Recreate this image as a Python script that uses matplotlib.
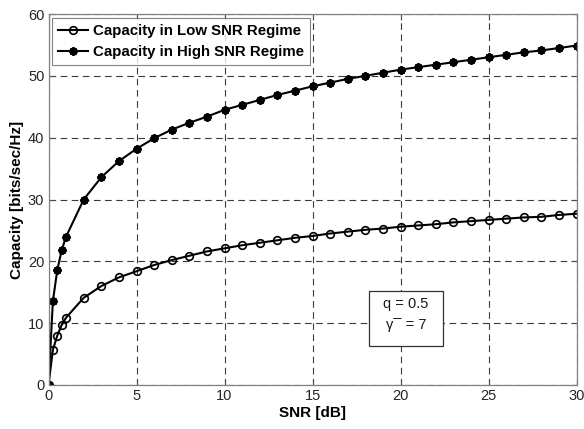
import matplotlib
matplotlib.use("Agg")
import matplotlib.pyplot as plt
from matplotlib.patches import Rectangle

snr_db = [0, 0.25, 0.5, 0.75, 1, 2, 3, 4, 5, 6, 7, 8, 9, 10, 11, 12, 13, 14, 15,
          16, 17, 18, 19, 20, 21, 22, 23, 24, 25, 26, 27, 28, 29, 30]
cap_low = [0, 5.7, 8.0, 9.7, 10.9, 14.1, 16.0, 17.4, 18.4, 19.4, 20.2, 20.9, 21.6,
           22.1, 22.6, 23.0, 23.4, 23.8, 24.1, 24.5, 24.8, 25.1, 25.3, 25.6, 25.8,
           26.0, 26.3, 26.5, 26.7, 26.9, 27.1, 27.2, 27.5, 27.7]
cap_high = [0, 13.6, 18.6, 21.8, 24.0, 30.0, 33.6, 36.2, 38.2, 39.9, 41.3, 42.4, 43.4,
            44.5, 45.3, 46.1, 46.9, 47.6, 48.3, 48.9, 49.5, 50.0, 50.5, 51.0, 51.4,
            51.8, 52.2, 52.6, 53.0, 53.4, 53.8, 54.1, 54.5, 54.9]
labels = ["Capacity in Low SNR Regime", "Capacity in High SNR Regime"]
x_ticks = [0, 5, 10, 15, 20, 25, 30]
y_ticks = [0, 10, 20, 30, 40, 50, 60]

plt.rcParams['font.family'] = ['Liberation Sans', 'DejaVu Sans']

fig = plt.figure(figsize=(5.84, 4.29), dpi=100)
ax = fig.add_axes([48.5/584, 1-385/429, 528/584, 371/429])

ax.plot(snr_db, cap_low, color='black', lw=1.5, marker='o', ms=5.5,
        mfc='none', mec='black', mew=1.2, label=labels[0])
ax.plot(snr_db, cap_high, color='black', lw=1.5, marker=(8, 2, 0), ms=6,
        mec='black', mew=1.6, label=labels[1])

ax.set_xlim(0, 30)
ax.set_ylim(0, 60)
ax.set_xticks(x_ticks)
ax.set_yticks(y_ticks)
ax.tick_params(direction='in', top=True, right=True, length=4, width=0.8,
               color='0.3', labelsize=10.5, labelcolor='0.15', pad=3)
for s in ax.spines.values():
    s.set_color('0.5')
    s.set_linewidth(0.9)
ax.grid(True, color='0.15', linestyle=(0, (6, 4)), linewidth=0.8, alpha=0.9)
ax.set_axisbelow(True)

ax.set_xlabel("SNR [dB]", fontsize=11, fontweight='bold', labelpad=2)
ax.set_ylabel("Capacity [bits/sec/Hz]", fontsize=11, fontweight='bold', labelpad=3)

leg = ax.legend(loc='upper left', frameon=True, fancybox=False,
                edgecolor='0.4', borderpad=0.4, labelspacing=0.5,
                handlelength=2.0, handletextpad=0.3, borderaxespad=0.25,
                prop={'weight': 'bold', 'size': 10.8})
leg.get_frame().set_linewidth(0.8)

ax.add_patch(Rectangle((18.2, 6.3), 4.2, 8.9, facecolor='white', edgecolor='0.2',
                       lw=0.9, zorder=5))
ax.text(20.3, 13.1, "q = 0.5", ha='center', va='center', fontsize=10.5, zorder=6,
        color='0.1')
ax.text(20.3, 9.7, "γ\u00af = 7", ha='center', va='center', fontsize=10.5, zorder=6,
        color='0.1')

fig.savefig("out.png", dpi=100)
